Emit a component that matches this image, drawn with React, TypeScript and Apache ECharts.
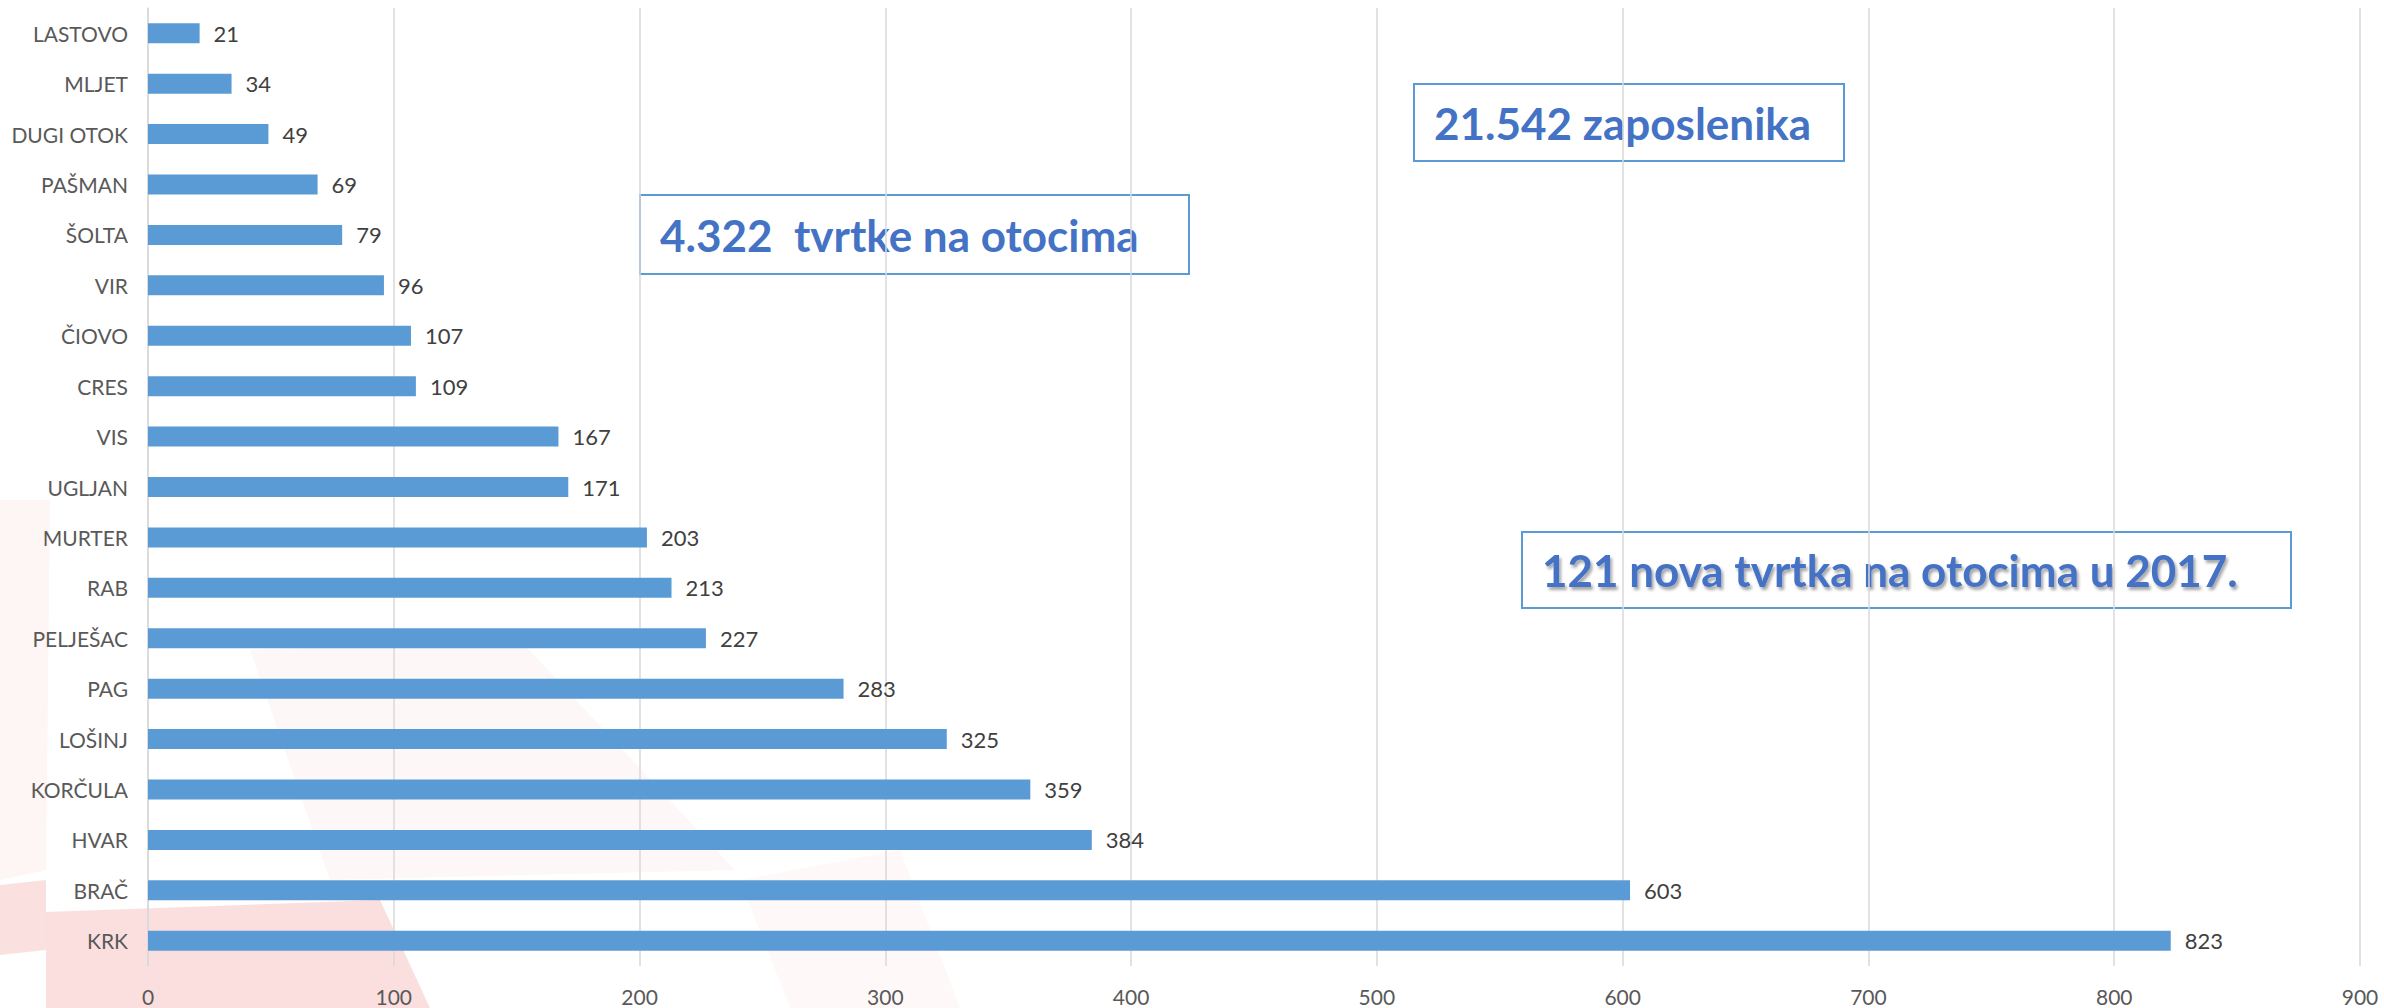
import React, { useEffect, useRef } from "react";
import * as echarts from "echarts";

const islands = ["LASTOVO", "MLJET", "DUGI OTOK", "PAŠMAN", "ŠOLTA", "VIR", "ČIOVO", "CRES", "VIS", "UGLJAN", "MURTER", "RAB", "PELJEŠAC", "PAG", "LOŠINJ", "KORČULA", "HVAR", "BRAČ", "KRK"];
const companies = [21, 34, 49, 69, 79, 96, 107, 109, 167, 171, 203, 213, 227, 283, 325, 359, 384, 603, 823];
const xTicks = [0, 100, 200, 300, 400, 500, 600, 700, 800, 900];
const notes = ["4.322  tvrtke na otocima", "21.542 zaposlenika", "121 nova tvrtka na otocima u 2017."];

const FONT = "Lato, 'Open Sans', sans-serif";

function noteBox(text: string, x: number, y: number, w: number, h: number, shadow: boolean) {
  return {
    type: "group",
    z: 10,
    children: [
      {
        type: "rect",
        shape: { x, y, width: w, height: h },
        style: { fill: "rgba(255,255,255,0)", stroke: "#5B9BD5", lineWidth: 2 },
      },
      {
        type: "text",
        x: x + 20,
        y: y + h / 2,
        style: {
          text,
          fill: "#4472C4",
          font: `bold 44px ${FONT}`,
          verticalAlign: "middle",
          align: "left",
          textShadowColor: shadow ? "rgba(0,0,0,0.35)" : "transparent",
          textShadowOffsetX: shadow ? 2 : 0,
          textShadowOffsetY: shadow ? 3 : 0,
          textShadowBlur: shadow ? 3 : 0,
        },
      },
    ],
  };
}

export default function App() {
  const ref = useRef<HTMLDivElement>(null);
  useEffect(() => {
    if (!ref.current) return;
    const chart = echarts.init(ref.current, undefined, { renderer: "svg" });
    chart.setOption({
      animation: false,
      backgroundColor: "#ffffff",
      grid: { left: 148, right: 24, top: 8, bottom: 42, containLabel: false },
      xAxis: {
        type: "value",
        min: 0,
        max: 900,
        interval: 100,
        axisLine: { show: false },
        axisTick: { show: false },
        splitLine: { show: true, lineStyle: { color: "#d9d9d9", width: 1.5 } },
        axisLabel: {
          color: "#595959",
          fontSize: 21,
          fontFamily: FONT,
          margin: 20,
          formatter: (v: number) => (xTicks.includes(v) ? String(v) : ""),
        },
      },
      yAxis: {
        type: "category",
        data: islands,
        inverse: true,
        axisLine: { show: true, lineStyle: { color: "#d9d9d9", width: 1.5 } },
        axisTick: { show: false },
        axisLabel: { color: "#595959", fontSize: 21, fontFamily: FONT, margin: 20 },
      },
      series: [
        {
          type: "bar",
          data: companies,
          barWidth: 20,
          itemStyle: { color: "#5B9BD5" },
          label: {
            show: true,
            position: "right",
            distance: 14,
            color: "#404040",
            fontSize: 22,
            fontFamily: FONT,
          },
          z: 3,
        },
      ],
      graphic: [
        {
          type: "group",
          z: -10,
          silent: true,
          children: [
            { type: "polygon", shape: { points: [[0, 500], [50, 500], [46, 870], [0, 880]] }, style: { fill: "rgba(235,120,120,0.07)" } },
            { type: "polygon", shape: { points: [[0, 885], [46, 880], [46, 950], [0, 955]] }, style: { fill: "rgba(235,100,100,0.2)" } },
            { type: "polygon", shape: { points: [[46, 912], [380, 900], [430, 1008], [46, 1008]] }, style: { fill: "rgba(235,110,110,0.22)" } },
            { type: "polygon", shape: { points: [[250, 650], [520, 640], [735, 870], [330, 880]] }, style: { fill: "rgba(235,120,120,0.06)" } },
            { type: "polygon", shape: { points: [[740, 880], [900, 850], [960, 1008], [790, 1008]] }, style: { fill: "rgba(235,120,120,0.05)" } },
          ],
        },
        noteBox(notes[0], 640, 195, 549, 79, false),
        noteBox(notes[1], 1414, 84, 430, 77, false),
        noteBox(notes[2], 1522, 532, 769, 76, true),
      ],
    });
    return () => chart.dispose();
  }, []);
  return <div ref={ref} style={{ position: "fixed", left: 0, top: 0, width: 2384, height: 1008 }} />;
}
